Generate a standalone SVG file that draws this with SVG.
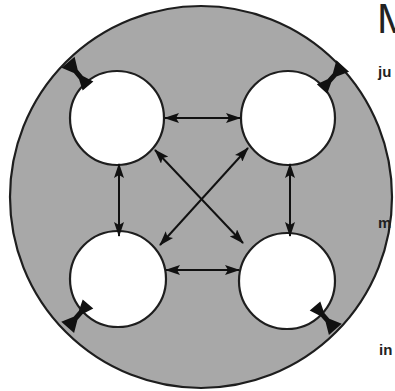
<svg xmlns="http://www.w3.org/2000/svg" width="395" height="391" viewBox="0 0 395 391">
<defs>
<style>
.outer{fill:#a8a8a8;stroke:#1e1e1e;stroke-width:2.2}
.cell{fill:#ffffff;stroke:#1e1e1e;stroke-width:2.2}
.conn{stroke:#111;stroke-width:2;fill:none;marker-start:url(#ah);marker-end:url(#ah)}
.lbl{font-family:"Liberation Sans",Arial,sans-serif;fill:#222}
.b{font-weight:bold}
</style>
<marker id="ah" markerUnits="userSpaceOnUse" viewBox="0 0 15 10" refX="14" refY="5" markerWidth="15" markerHeight="10" orient="auto-start-reverse">
<path d="M0,0 L15,5 L0,10 L3,5 z" fill="#111"/>
</marker>
<path id="bow" d="M0,-7 L11,-2.5 L19,-2.5 L31,-8.5 L31,8.5 L19,2.5 L11,2.5 L0,7 z" fill="#111"/>
</defs>
<g id="membrane">
<circle class="outer" cx="201" cy="197" r="191"/>
</g>
<g id="cell-tl"><circle class="cell" cx="117" cy="118" r="47"/></g>
<g id="cell-tr"><circle class="cell" cx="288" cy="118" r="47"/></g>
<g id="cell-bl"><circle class="cell" cx="118" cy="279" r="48"/></g>
<g id="cell-br"><circle class="cell" cx="287" cy="281" r="48"/></g>
<g id="junctions">
<use href="#bow" transform="translate(88,86) rotate(-130)"/>
<use href="#bow" transform="translate(322,89) rotate(-48)"/>
<use href="#bow" transform="translate(88,304) rotate(131)"/>
<use href="#bow" transform="translate(315,306) rotate(49)"/>
</g>
<g id="connectors">
<line class="conn" x1="165" y1="118" x2="240" y2="118"/>
<line class="conn" x1="166" y1="270" x2="239" y2="270"/>
<line class="conn" x1="119" y1="164" x2="119" y2="236"/>
<line class="conn" x1="290" y1="164" x2="290" y2="236"/>
<line class="conn" x1="155" y1="150" x2="243" y2="243"/>
<line class="conn" x1="248" y1="148" x2="160" y2="245"/>
</g>
<g id="labels">
<text class="lbl" x="377" y="33" font-size="42">M</text>
<text class="lbl b" x="378" y="77" font-size="15">ju</text>
<text class="lbl b" x="378" y="228" font-size="15">m</text>
<text class="lbl b" x="379" y="355" font-size="15">in</text>
</g>
</svg>
